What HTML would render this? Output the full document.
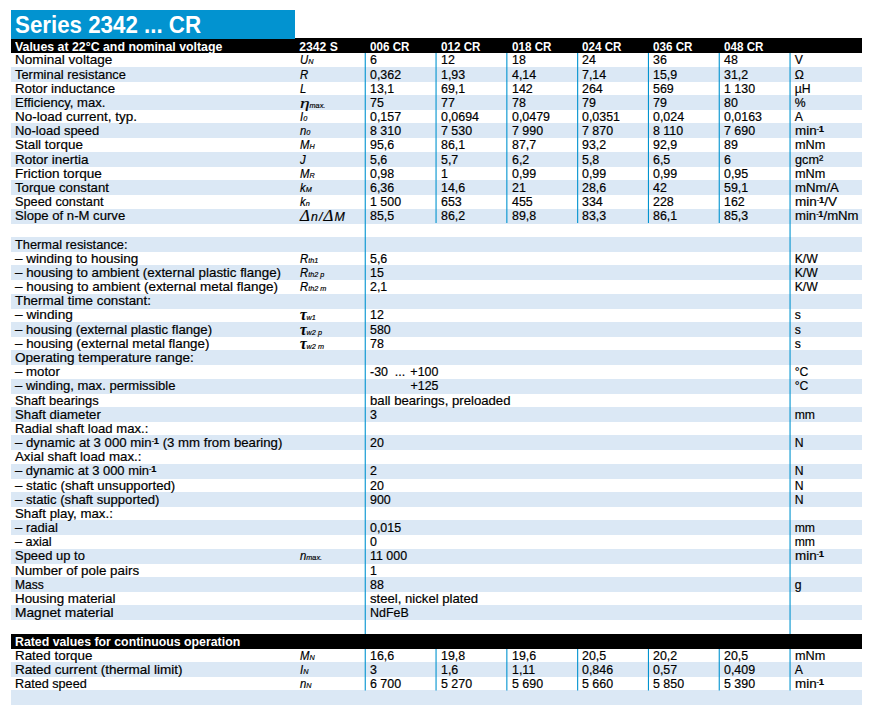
<!DOCTYPE html><html><head><meta charset="utf-8"><title>Series 2342 ... CR</title><style>
html,body{margin:0;padding:0;background:#fff}
body{width:871px;height:715px;position:relative;overflow:hidden;font-family:"Liberation Sans",sans-serif;font-size:12.2px;color:#000}
.bl{position:absolute;left:11px;width:851px;height:15px;background:#dbe8f5}
.bk{position:absolute;left:11px;width:851px;background:#000}
.c{position:absolute;white-space:nowrap;height:0;line-height:0;transform-origin:0 0;-webkit-text-stroke:0.18px currentColor}
.h{color:#fff;font-weight:bold;-webkit-text-stroke:0}
i{font-style:italic}
i.s{font-size:7.8px}
i.g{font-family:"Liberation Serif",serif;font-size:15.5px;display:inline-block;transform:scaleX(1.35);transform-origin:0 0;margin-right:2.6px}
i.t{font-family:"Liberation Serif",serif;font-size:16px;font-weight:bold}
i.d{font-family:"Liberation Serif",serif;font-size:16.5px}
b.sup u{font-weight:normal;text-decoration:none;font-size:7px;letter-spacing:-0.3px;position:relative;top:-0.9px}
b.sup{font-weight:bold;font-size:8.6px;position:relative;top:-3.3px}
.v{position:absolute;width:1px;background:#0293d0}
.w{position:absolute;width:1px;background:#bfe1f3}
#t{z-index:2;position:absolute;left:11px;top:10px;width:284px;height:29px;background:#0293d0}
#t span{position:absolute;left:4.2px;top:15px;height:0;line-height:0;color:#fff;font-weight:bold;font-size:23.2px;white-space:nowrap;transform-origin:0 0;transform:scaleX(0.962)}

</style></head><body>
<div id="t"><span>Series 2342 ... CR</span></div>
<div class="bl" style="top:67px"></div>
<div class="bl" style="top:95px"></div>
<div class="bl" style="top:123px"></div>
<div class="bl" style="top:152px"></div>
<div class="bl" style="top:180px"></div>
<div class="bl" style="top:209px"></div>
<div class="bl" style="top:237px"></div>
<div class="bl" style="top:265px"></div>
<div class="bl" style="top:294px"></div>
<div class="bl" style="top:322px"></div>
<div class="bl" style="top:350px"></div>
<div class="bl" style="top:379px"></div>
<div class="bl" style="top:407px"></div>
<div class="bl" style="top:435px"></div>
<div class="bl" style="top:464px"></div>
<div class="bl" style="top:492px"></div>
<div class="bl" style="top:520px"></div>
<div class="bl" style="top:549px"></div>
<div class="bl" style="top:577px"></div>
<div class="bl" style="top:605px"></div>
<div class="bl" style="top:662px"></div>
<div class="bl" style="top:690px"></div>
<div class="bk" style="top:38px;height:15px"></div>
<div class="bk" style="top:634px;height:15px"></div>
<svg width="871" height="715" viewBox="0 0 871 715" style="position:absolute;left:0;top:0" fill="#0293d0"><rect x="364.70" y="53" width="1.1" height="581"/><rect x="364.70" y="649" width="1.1" height="41.5"/><rect x="435.50" y="53" width="1.1" height="170"/><rect x="435.50" y="649" width="1.1" height="41.5"/><rect x="506.30" y="53" width="1.1" height="170"/><rect x="506.30" y="649" width="1.1" height="41.5"/><rect x="577.10" y="53" width="1.1" height="170"/><rect x="577.10" y="649" width="1.1" height="41.5"/><rect x="647.90" y="53" width="1.1" height="170"/><rect x="647.90" y="649" width="1.1" height="41.5"/><rect x="718.70" y="53" width="1.1" height="170"/><rect x="718.70" y="649" width="1.1" height="41.5"/><rect x="789.50" y="53" width="1.1" height="581"/><rect x="789.50" y="649" width="1.1" height="41.5"/></svg>
<span class="c h l" style="left:15.30px;top:47px;transform:scaleX(1.0132)">Values at 22°C and nominal voltage</span>
<span class="c h sy" style="left:299.20px;top:47px">2342 S</span>
<span class="c h" style="left:369.90px;top:47px;transform:scaleX(0.9550)">006 CR</span>
<span class="c h" style="left:440.70px;top:47px;transform:scaleX(0.9550)">012 CR</span>
<span class="c h" style="left:511.50px;top:47px;transform:scaleX(0.9550)">018 CR</span>
<span class="c h" style="left:582.30px;top:47px;transform:scaleX(0.9550)">024 CR</span>
<span class="c h" style="left:653.10px;top:47px;transform:scaleX(0.9550)">036 CR</span>
<span class="c h" style="left:723.90px;top:47px;transform:scaleX(0.9550)">048 CR</span>
<span class="c l" style="left:15.30px;top:60px;transform:scaleX(1.1142)">Nominal voltage</span>
<span class="c sy" style="left:299.80px;top:60px;transform:scaleX(0.9300)"><i class="">U</i><i class="s">N</i></span>
<span class="c" style="left:369.90px;top:60px;transform:scaleX(1.0200)">6</span>
<span class="c" style="left:440.70px;top:60px;transform:scaleX(1.0200)">12</span>
<span class="c" style="left:511.50px;top:60px;transform:scaleX(1.0200)">18</span>
<span class="c" style="left:582.30px;top:60px;transform:scaleX(1.0200)">24</span>
<span class="c" style="left:653.10px;top:60px;transform:scaleX(1.0200)">36</span>
<span class="c" style="left:723.90px;top:60px;transform:scaleX(1.0200)">48</span>
<span class="c" style="left:794.70px;top:60px">V</span>
<span class="c l" style="left:15.30px;top:75px;transform:scaleX(1.0564)">Terminal resistance</span>
<span class="c sy" style="left:299.80px;top:75px;transform:scaleX(0.9300)"><i>R</i></span>
<span class="c" style="left:369.90px;top:75px;transform:scaleX(1.0200)">0,362</span>
<span class="c" style="left:440.70px;top:75px;transform:scaleX(1.0200)">1,93</span>
<span class="c" style="left:511.50px;top:75px;transform:scaleX(1.0200)">4,14</span>
<span class="c" style="left:582.30px;top:75px;transform:scaleX(1.0200)">7,14</span>
<span class="c" style="left:653.10px;top:75px;transform:scaleX(1.0200)">15,9</span>
<span class="c" style="left:723.90px;top:75px;transform:scaleX(1.0200)">31,2</span>
<span class="c" style="left:794.70px;top:75px">Ω</span>
<span class="c l" style="left:15.30px;top:89px;transform:scaleX(1.0862)">Rotor inductance</span>
<span class="c sy" style="left:299.80px;top:89px;transform:scaleX(0.9300)"><i>L</i></span>
<span class="c" style="left:369.90px;top:89px;transform:scaleX(1.0200)">13,1</span>
<span class="c" style="left:440.70px;top:89px;transform:scaleX(1.0200)">69,1</span>
<span class="c" style="left:511.50px;top:89px;transform:scaleX(1.0200)">142</span>
<span class="c" style="left:582.30px;top:89px;transform:scaleX(1.0200)">264</span>
<span class="c" style="left:653.10px;top:89px;transform:scaleX(1.0200)">569</span>
<span class="c" style="left:723.90px;top:89px;transform:scaleX(1.0200)">1 130</span>
<span class="c" style="left:794.70px;top:89px">µH</span>
<span class="c l" style="left:15.30px;top:103px;transform:scaleX(1.0741)">Efficiency, max.</span>
<span class="c sy" style="left:299.80px;top:103px;transform:scaleX(0.9300)"><i class="g">η</i><i class="s">max.</i></span>
<span class="c" style="left:369.90px;top:103px;transform:scaleX(1.0200)">75</span>
<span class="c" style="left:440.70px;top:103px;transform:scaleX(1.0200)">77</span>
<span class="c" style="left:511.50px;top:103px;transform:scaleX(1.0200)">78</span>
<span class="c" style="left:582.30px;top:103px;transform:scaleX(1.0200)">79</span>
<span class="c" style="left:653.10px;top:103px;transform:scaleX(1.0200)">79</span>
<span class="c" style="left:723.90px;top:103px;transform:scaleX(1.0200)">80</span>
<span class="c" style="left:794.70px;top:103px">%</span>
<span class="c l" style="left:15.30px;top:117px;transform:scaleX(1.1048)">No-load current, typ.</span>
<span class="c sy" style="left:299.80px;top:117px;transform:scaleX(0.9300)"><i class="">I</i><i class="s">0</i></span>
<span class="c" style="left:369.90px;top:117px;transform:scaleX(1.0200)">0,157</span>
<span class="c" style="left:440.70px;top:117px;transform:scaleX(1.0200)">0,0694</span>
<span class="c" style="left:511.50px;top:117px;transform:scaleX(1.0200)">0,0479</span>
<span class="c" style="left:582.30px;top:117px;transform:scaleX(1.0200)">0,0351</span>
<span class="c" style="left:653.10px;top:117px;transform:scaleX(1.0200)">0,024</span>
<span class="c" style="left:723.90px;top:117px;transform:scaleX(1.0200)">0,0163</span>
<span class="c" style="left:794.70px;top:117px">A</span>
<span class="c l" style="left:15.30px;top:131px;transform:scaleX(1.0623)">No-load speed</span>
<span class="c sy" style="left:299.80px;top:131px;transform:scaleX(0.9300)"><i class="">n</i><i class="s">0</i></span>
<span class="c" style="left:369.90px;top:131px;transform:scaleX(1.0200)">8 310</span>
<span class="c" style="left:440.70px;top:131px;transform:scaleX(1.0200)">7 530</span>
<span class="c" style="left:511.50px;top:131px;transform:scaleX(1.0200)">7 990</span>
<span class="c" style="left:582.30px;top:131px;transform:scaleX(1.0200)">7 870</span>
<span class="c" style="left:653.10px;top:131px;transform:scaleX(1.0200)">8 110</span>
<span class="c" style="left:723.90px;top:131px;transform:scaleX(1.0200)">7 690</span>
<span class="c" style="left:794.70px;top:131px;transform:scaleX(1.1000)">min<b class="sup"><u>-</u>1</b></span>
<span class="c l" style="left:15.30px;top:145px;transform:scaleX(1.1005)">Stall torque</span>
<span class="c sy" style="left:299.80px;top:145px;transform:scaleX(0.9300)"><i class="">M</i><i class="s">H</i></span>
<span class="c" style="left:369.90px;top:145px;transform:scaleX(1.0200)">95,6</span>
<span class="c" style="left:440.70px;top:145px;transform:scaleX(1.0200)">86,1</span>
<span class="c" style="left:511.50px;top:145px;transform:scaleX(1.0200)">87,7</span>
<span class="c" style="left:582.30px;top:145px;transform:scaleX(1.0200)">93,2</span>
<span class="c" style="left:653.10px;top:145px;transform:scaleX(1.0200)">92,9</span>
<span class="c" style="left:723.90px;top:145px;transform:scaleX(1.0200)">89</span>
<span class="c" style="left:794.70px;top:145px;transform:scaleX(1.0400)">mNm</span>
<span class="c l" style="left:15.30px;top:160px;transform:scaleX(1.1079)">Rotor inertia</span>
<span class="c sy" style="left:299.80px;top:160px;transform:scaleX(0.9300)"><i>J</i></span>
<span class="c" style="left:369.90px;top:160px;transform:scaleX(1.0200)">5,6</span>
<span class="c" style="left:440.70px;top:160px;transform:scaleX(1.0200)">5,7</span>
<span class="c" style="left:511.50px;top:160px;transform:scaleX(1.0200)">6,2</span>
<span class="c" style="left:582.30px;top:160px;transform:scaleX(1.0200)">5,8</span>
<span class="c" style="left:653.10px;top:160px;transform:scaleX(1.0200)">6,5</span>
<span class="c" style="left:723.90px;top:160px;transform:scaleX(1.0200)">6</span>
<span class="c" style="left:794.70px;top:160px;transform:scaleX(1.0400)">gcm²</span>
<span class="c l" style="left:15.30px;top:174px;transform:scaleX(1.1145)">Friction torque</span>
<span class="c sy" style="left:299.80px;top:174px;transform:scaleX(0.9300)"><i class="">M</i><i class="s">R</i></span>
<span class="c" style="left:369.90px;top:174px;transform:scaleX(1.0200)">0,98</span>
<span class="c" style="left:440.70px;top:174px;transform:scaleX(1.0200)">1</span>
<span class="c" style="left:511.50px;top:174px;transform:scaleX(1.0200)">0,99</span>
<span class="c" style="left:582.30px;top:174px;transform:scaleX(1.0200)">0,99</span>
<span class="c" style="left:653.10px;top:174px;transform:scaleX(1.0200)">0,99</span>
<span class="c" style="left:723.90px;top:174px;transform:scaleX(1.0200)">0,95</span>
<span class="c" style="left:794.70px;top:174px;transform:scaleX(1.0400)">mNm</span>
<span class="c l" style="left:15.30px;top:188px;transform:scaleX(1.0830)">Torque constant</span>
<span class="c sy" style="left:299.80px;top:188px;transform:scaleX(0.9300)"><i class="">k</i><i class="s">M</i></span>
<span class="c" style="left:369.90px;top:188px;transform:scaleX(1.0200)">6,36</span>
<span class="c" style="left:440.70px;top:188px;transform:scaleX(1.0200)">14,6</span>
<span class="c" style="left:511.50px;top:188px;transform:scaleX(1.0200)">21</span>
<span class="c" style="left:582.30px;top:188px;transform:scaleX(1.0200)">28,6</span>
<span class="c" style="left:653.10px;top:188px;transform:scaleX(1.0200)">42</span>
<span class="c" style="left:723.90px;top:188px;transform:scaleX(1.0200)">59,1</span>
<span class="c" style="left:794.70px;top:188px;transform:scaleX(1.0800)">mNm/A</span>
<span class="c l" style="left:15.30px;top:202px;transform:scaleX(1.0460)">Speed constant</span>
<span class="c sy" style="left:299.80px;top:202px;transform:scaleX(0.9300)"><i class="">k</i><i class="s">n</i></span>
<span class="c" style="left:369.90px;top:202px;transform:scaleX(1.0200)">1 500</span>
<span class="c" style="left:440.70px;top:202px;transform:scaleX(1.0200)">653</span>
<span class="c" style="left:511.50px;top:202px;transform:scaleX(1.0200)">455</span>
<span class="c" style="left:582.30px;top:202px;transform:scaleX(1.0200)">334</span>
<span class="c" style="left:653.10px;top:202px;transform:scaleX(1.0200)">228</span>
<span class="c" style="left:723.90px;top:202px;transform:scaleX(1.0200)">162</span>
<span class="c" style="left:794.70px;top:202px;transform:scaleX(1.1100)">min<b class="sup"><u>-</u>1</b>/V</span>
<span class="c l" style="left:15.30px;top:216px;transform:scaleX(1.0777)">Slope of n-M curve</span>
<span class="c sy" style="left:299.80px;top:216px;transform:scaleX(0.9300)"><span style="letter-spacing:1.1px;display:inline-block;transform-origin:0 0;transform:scaleX(1.09)"><i class="d">Δ</i><i>n</i><i>/</i><i class="d">Δ</i><i>M</i></span></span>
<span class="c" style="left:369.90px;top:216px;transform:scaleX(1.0200)">85,5</span>
<span class="c" style="left:440.70px;top:216px;transform:scaleX(1.0200)">86,2</span>
<span class="c" style="left:511.50px;top:216px;transform:scaleX(1.0200)">89,8</span>
<span class="c" style="left:582.30px;top:216px;transform:scaleX(1.0200)">83,3</span>
<span class="c" style="left:653.10px;top:216px;transform:scaleX(1.0200)">86,1</span>
<span class="c" style="left:723.90px;top:216px;transform:scaleX(1.0200)">85,3</span>
<span class="c" style="left:794.70px;top:216px;transform:scaleX(1.0780)">min<b class="sup"><u>-</u>1</b>/mNm</span>
<span class="c l" style="left:15.30px;top:245px;transform:scaleX(1.0515)">Thermal resistance:</span>
<span class="c l" style="left:15.30px;top:259px;transform:scaleX(1.1102)">– winding to housing</span>
<span class="c sy" style="left:299.80px;top:259px;transform:scaleX(0.9300)"><i class="">R</i><i class="s">th1</i></span>
<span class="c" style="left:369.90px;top:259px;transform:scaleX(1.0200)">5,6</span>
<span class="c" style="left:794.70px;top:259px">K/W</span>
<span class="c l" style="left:15.30px;top:273px;transform:scaleX(1.0968)">– housing to ambient (external plastic flange)</span>
<span class="c sy" style="left:299.80px;top:273px;transform:scaleX(0.9300)"><i class="">R</i><i class="s">th2 p</i></span>
<span class="c" style="left:369.90px;top:273px;transform:scaleX(1.0200)">15</span>
<span class="c" style="left:794.70px;top:273px">K/W</span>
<span class="c l" style="left:15.30px;top:287px;transform:scaleX(1.1060)">– housing to ambient (external metal flange)</span>
<span class="c sy" style="left:299.80px;top:287px;transform:scaleX(0.9300)"><i class="">R</i><i class="s">th2 m</i></span>
<span class="c" style="left:369.90px;top:287px;transform:scaleX(1.0200)">2,1</span>
<span class="c" style="left:794.70px;top:287px">K/W</span>
<span class="c l" style="left:15.30px;top:301px;transform:scaleX(1.0970)">Thermal time constant:</span>
<span class="c l" style="left:15.30px;top:315px;transform:scaleX(1.1243)">– winding</span>
<span class="c sy" style="left:299.80px;top:315px;transform:scaleX(0.9300)"><i class="t">τ</i><i class="s">w1</i></span>
<span class="c" style="left:369.90px;top:315px;transform:scaleX(1.0200)">12</span>
<span class="c" style="left:794.70px;top:315px">s</span>
<span class="c l" style="left:15.30px;top:330px;transform:scaleX(1.0815)">– housing (external plastic flange)</span>
<span class="c sy" style="left:299.80px;top:330px;transform:scaleX(0.9300)"><i class="t">τ</i><i class="s">w2 p</i></span>
<span class="c" style="left:369.90px;top:330px;transform:scaleX(1.0200)">580</span>
<span class="c" style="left:794.70px;top:330px">s</span>
<span class="c l" style="left:15.30px;top:344px;transform:scaleX(1.0951)">– housing (external metal flange)</span>
<span class="c sy" style="left:299.80px;top:344px;transform:scaleX(0.9300)"><i class="t">τ</i><i class="s">w2 m</i></span>
<span class="c" style="left:369.90px;top:344px;transform:scaleX(1.0200)">78</span>
<span class="c" style="left:794.70px;top:344px">s</span>
<span class="c l" style="left:15.30px;top:358px;transform:scaleX(1.1133)">Operating temperature range:</span>
<span class="c l" style="left:15.30px;top:372px;transform:scaleX(1.0863)">– motor</span>
<span class="c" style="left:369.90px;top:372px;transform:scaleX(1.0200)">-30<span style="padding-left:6.7px">...</span><span style="padding-left:5.1px">+100</span></span>
<span class="c" style="left:794.70px;top:372px">°C</span>
<span class="c l" style="left:15.30px;top:386px;transform:scaleX(1.0721)">– winding, max. permissible</span>
<span class="c" style="left:369.90px;top:386px;transform:scaleX(1.0200)"><span style="padding-left:39.7px">+125</span></span>
<span class="c" style="left:794.70px;top:386px">°C</span>
<span class="c l" style="left:15.30px;top:401px;transform:scaleX(1.0661)">Shaft bearings</span>
<span class="c" style="left:369.90px;top:401px;transform:scaleX(1.0800)">ball bearings, preloaded</span>
<span class="c l" style="left:15.30px;top:415px;transform:scaleX(1.0828)">Shaft diameter</span>
<span class="c" style="left:369.90px;top:415px;transform:scaleX(1.0200)">3</span>
<span class="c" style="left:794.70px;top:415px">mm</span>
<span class="c l" style="left:15.30px;top:429px;transform:scaleX(1.0750)">Radial shaft load max.:</span>
<span class="c l" style="left:15.30px;top:443px;transform:scaleX(1.0842)">– dynamic at 3 000 min<b class="sup"><u>-</u>1</b> (3 mm from bearing)</span>
<span class="c" style="left:369.90px;top:443px;transform:scaleX(1.0200)">20</span>
<span class="c" style="left:794.70px;top:443px">N</span>
<span class="c l" style="left:15.30px;top:457px;transform:scaleX(1.0915)">Axial shaft load max.:</span>
<span class="c l" style="left:15.30px;top:471px;transform:scaleX(1.0641)">– dynamic at 3 000 min<b class="sup"><u>-</u>1</b></span>
<span class="c" style="left:369.90px;top:471px;transform:scaleX(1.0200)">2</span>
<span class="c" style="left:794.70px;top:471px">N</span>
<span class="c l" style="left:15.30px;top:486px;transform:scaleX(1.0852)">– static (shaft unsupported)</span>
<span class="c" style="left:369.90px;top:486px;transform:scaleX(1.0200)">20</span>
<span class="c" style="left:794.70px;top:486px">N</span>
<span class="c l" style="left:15.30px;top:500px;transform:scaleX(1.0763)">– static (shaft supported)</span>
<span class="c" style="left:369.90px;top:500px;transform:scaleX(1.0200)">900</span>
<span class="c" style="left:794.70px;top:500px">N</span>
<span class="c l" style="left:15.30px;top:514px;transform:scaleX(1.0891)">Shaft play, max.:</span>
<span class="c l" style="left:15.30px;top:528px;transform:scaleX(1.0705)">– radial</span>
<span class="c" style="left:369.90px;top:528px;transform:scaleX(1.0200)">0,015</span>
<span class="c" style="left:794.70px;top:528px">mm</span>
<span class="c l" style="left:15.30px;top:542px;transform:scaleX(1.0403)">– axial</span>
<span class="c" style="left:369.90px;top:542px;transform:scaleX(1.0200)">0</span>
<span class="c" style="left:794.70px;top:542px">mm</span>
<span class="c l" style="left:15.30px;top:556px;transform:scaleX(1.0639)">Speed up to</span>
<span class="c sy" style="left:299.80px;top:556px;transform:scaleX(0.9300)"><i>n</i><i class="s">max.</i></span>
<span class="c" style="left:369.90px;top:556px;transform:scaleX(1.0200)">11 000</span>
<span class="c" style="left:794.70px;top:556px;transform:scaleX(1.1000)">min<b class="sup"><u>-</u>1</b></span>
<span class="c l" style="left:15.30px;top:571px;transform:scaleX(1.0967)">Number of pole pairs</span>
<span class="c" style="left:369.90px;top:571px;transform:scaleX(1.0200)">1</span>
<span class="c l" style="left:15.30px;top:585px;transform:scaleX(0.9861)">Mass</span>
<span class="c" style="left:369.90px;top:585px;transform:scaleX(1.0200)">88</span>
<span class="c" style="left:794.70px;top:585px">g</span>
<span class="c l" style="left:15.30px;top:599px;transform:scaleX(1.0981)">Housing material</span>
<span class="c" style="left:369.90px;top:599px;transform:scaleX(1.0780)">steel, nickel plated</span>
<span class="c l" style="left:15.30px;top:613px;transform:scaleX(1.1292)">Magnet material</span>
<span class="c" style="left:369.90px;top:613px;transform:scaleX(1.0200)">NdFeB</span>
<span class="c h l" style="left:15.30px;top:642px;transform:scaleX(1.0108)">Rated values for continuous operation</span>
<span class="c l" style="left:15.30px;top:656px;transform:scaleX(1.0990)">Rated torque</span>
<span class="c sy" style="left:299.80px;top:656px;transform:scaleX(0.9300)"><i class="">M</i><i class="s">N</i></span>
<span class="c" style="left:369.90px;top:656px;transform:scaleX(1.0200)">16,6</span>
<span class="c" style="left:440.70px;top:656px;transform:scaleX(1.0200)">19,8</span>
<span class="c" style="left:511.50px;top:656px;transform:scaleX(1.0200)">19,6</span>
<span class="c" style="left:582.30px;top:656px;transform:scaleX(1.0200)">20,5</span>
<span class="c" style="left:653.10px;top:656px;transform:scaleX(1.0200)">20,2</span>
<span class="c" style="left:723.90px;top:656px;transform:scaleX(1.0200)">20,5</span>
<span class="c" style="left:794.70px;top:656px;transform:scaleX(1.0400)">mNm</span>
<span class="c l" style="left:15.30px;top:670px;transform:scaleX(1.1095)">Rated current (thermal limit)</span>
<span class="c sy" style="left:299.80px;top:670px;transform:scaleX(0.9300)"><i class="">I</i><i class="s">N</i></span>
<span class="c" style="left:369.90px;top:670px;transform:scaleX(1.0200)">3</span>
<span class="c" style="left:440.70px;top:670px;transform:scaleX(1.0200)">1,6</span>
<span class="c" style="left:511.50px;top:670px;transform:scaleX(1.0200)">1,11</span>
<span class="c" style="left:582.30px;top:670px;transform:scaleX(1.0200)">0,846</span>
<span class="c" style="left:653.10px;top:670px;transform:scaleX(1.0200)">0,57</span>
<span class="c" style="left:723.90px;top:670px;transform:scaleX(1.0200)">0,409</span>
<span class="c" style="left:794.70px;top:670px">A</span>
<span class="c l" style="left:15.30px;top:684px;transform:scaleX(1.0378)">Rated speed</span>
<span class="c sy" style="left:299.80px;top:684px;transform:scaleX(0.9300)"><i class="">n</i><i class="s">N</i></span>
<span class="c" style="left:369.90px;top:684px;transform:scaleX(1.0200)">6 700</span>
<span class="c" style="left:440.70px;top:684px;transform:scaleX(1.0200)">5 270</span>
<span class="c" style="left:511.50px;top:684px;transform:scaleX(1.0200)">5 690</span>
<span class="c" style="left:582.30px;top:684px;transform:scaleX(1.0200)">5 660</span>
<span class="c" style="left:653.10px;top:684px;transform:scaleX(1.0200)">5 850</span>
<span class="c" style="left:723.90px;top:684px;transform:scaleX(1.0200)">5 390</span>
<span class="c" style="left:794.70px;top:684px;transform:scaleX(1.1000)">min<b class="sup"><u>-</u>1</b></span>
</body></html>
